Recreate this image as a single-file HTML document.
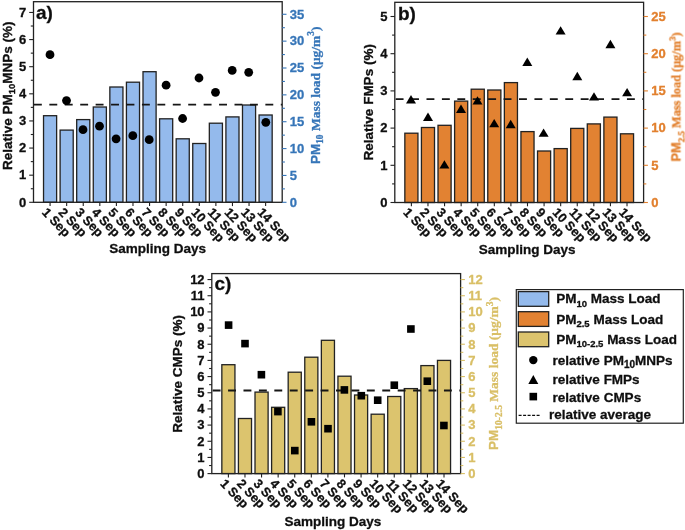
<!DOCTYPE html>
<html><head><meta charset="utf-8"><style>
html,body{margin:0;padding:0;background:#fff;}
body{width:685px;height:530px;overflow:hidden;}
svg{display:block;will-change:transform;font-family:"Liberation Sans",sans-serif;}
</style></head><body>
<svg width="685" height="530" viewBox="0 0 685 530">
<defs><filter id="bl" x="0" y="0" width="100%" height="100%" filterUnits="userSpaceOnUse"><feGaussianBlur stdDeviation="0.42 0.25"/></filter></defs>
<rect width="685" height="530" fill="#fff"/>
<g filter="url(#bl)">
<rect width="685" height="530" fill="#fff"/>
<rect x="43.53" y="115.7" width="13.1" height="86.6" fill="#94baec" stroke="#222" stroke-width="1.3"/>
<rect x="60.11" y="130.1" width="13.1" height="72.2" fill="#94baec" stroke="#222" stroke-width="1.3"/>
<rect x="76.69" y="119.6" width="13.1" height="82.7" fill="#94baec" stroke="#222" stroke-width="1.3"/>
<rect x="93.27" y="107" width="13.1" height="95.3" fill="#94baec" stroke="#222" stroke-width="1.3"/>
<rect x="109.85" y="87" width="13.1" height="115.3" fill="#94baec" stroke="#222" stroke-width="1.3"/>
<rect x="126.43" y="82.2" width="13.1" height="120.1" fill="#94baec" stroke="#222" stroke-width="1.3"/>
<rect x="143.01" y="71.7" width="13.1" height="130.6" fill="#94baec" stroke="#222" stroke-width="1.3"/>
<rect x="159.59" y="118.8" width="13.1" height="83.5" fill="#94baec" stroke="#222" stroke-width="1.3"/>
<rect x="176.17" y="138.8" width="13.1" height="63.5" fill="#94baec" stroke="#222" stroke-width="1.3"/>
<rect x="192.75" y="143.5" width="13.1" height="58.8" fill="#94baec" stroke="#222" stroke-width="1.3"/>
<rect x="209.33" y="123.2" width="13.1" height="79.1" fill="#94baec" stroke="#222" stroke-width="1.3"/>
<rect x="225.91" y="116.9" width="13.1" height="85.4" fill="#94baec" stroke="#222" stroke-width="1.3"/>
<rect x="242.49" y="105" width="13.1" height="97.3" fill="#94baec" stroke="#222" stroke-width="1.3"/>
<rect x="259.07" y="115" width="13.1" height="87.3" fill="#94baec" stroke="#222" stroke-width="1.3"/>
<line x1="33.5" y1="104.6" x2="282.2" y2="104.6" stroke="#151515" stroke-width="1.8" stroke-dasharray="7.9 7.53" stroke-dashoffset="-0.42"/>
<circle cx="50" cy="54.7" r="4.4" fill="#000"/>
<circle cx="66.5" cy="100.6" r="4.4" fill="#000"/>
<circle cx="83" cy="129.7" r="4.4" fill="#000"/>
<circle cx="99.5" cy="126.2" r="4.4" fill="#000"/>
<circle cx="116.1" cy="138.8" r="4.4" fill="#000"/>
<circle cx="132.8" cy="135.7" r="4.4" fill="#000"/>
<circle cx="149.2" cy="139.7" r="4.4" fill="#000"/>
<circle cx="166.1" cy="85.2" r="4.4" fill="#000"/>
<circle cx="182.6" cy="118.5" r="4.4" fill="#000"/>
<circle cx="199" cy="78" r="4.4" fill="#000"/>
<circle cx="215.5" cy="92.3" r="4.4" fill="#000"/>
<circle cx="232.2" cy="70.4" r="4.4" fill="#000"/>
<circle cx="248.7" cy="72.3" r="4.4" fill="#000"/>
<circle cx="265.8" cy="122.3" r="4.4" fill="#000"/>
<rect x="33.5" y="1.7" width="248.7" height="200.6" fill="none" stroke="#222" stroke-width="1.3"/>
<line x1="29.2" y1="202.3" x2="33.5" y2="202.3" stroke="#222" stroke-width="1.1"/>
<line x1="282.2" y1="202.3" x2="286.5" y2="202.3" stroke="#3675b8" stroke-width="1.1"/>
<text x="26.3" y="206.6" text-anchor="end" font-size="13" font-weight="bold" fill="#111" stroke="#111" stroke-width="0.3">0</text>
<text x="289.8" y="206.6" font-size="13" font-weight="bold" fill="#3675b8" stroke="#3675b8" stroke-width="0.3">0</text>
<line x1="30.8" y1="188.74" x2="33.5" y2="188.74" stroke="#222" stroke-width="1.1"/>
<line x1="282.2" y1="188.87" x2="284.9" y2="188.87" stroke="#3675b8" stroke-width="1.1"/>
<line x1="29.2" y1="175.18" x2="33.5" y2="175.18" stroke="#222" stroke-width="1.1"/>
<line x1="282.2" y1="175.44" x2="286.5" y2="175.44" stroke="#3675b8" stroke-width="1.1"/>
<text x="26.3" y="179.48" text-anchor="end" font-size="13" font-weight="bold" fill="#111" stroke="#111" stroke-width="0.3">1</text>
<text x="289.8" y="179.74" font-size="13" font-weight="bold" fill="#3675b8" stroke="#3675b8" stroke-width="0.3">5</text>
<line x1="30.8" y1="161.62" x2="33.5" y2="161.62" stroke="#222" stroke-width="1.1"/>
<line x1="282.2" y1="162.01" x2="284.9" y2="162.01" stroke="#3675b8" stroke-width="1.1"/>
<line x1="29.2" y1="148.06" x2="33.5" y2="148.06" stroke="#222" stroke-width="1.1"/>
<line x1="282.2" y1="148.58" x2="286.5" y2="148.58" stroke="#3675b8" stroke-width="1.1"/>
<text x="26.3" y="152.36" text-anchor="end" font-size="13" font-weight="bold" fill="#111" stroke="#111" stroke-width="0.3">2</text>
<text x="289.8" y="152.88" font-size="13" font-weight="bold" fill="#3675b8" stroke="#3675b8" stroke-width="0.3">10</text>
<line x1="30.8" y1="134.5" x2="33.5" y2="134.5" stroke="#222" stroke-width="1.1"/>
<line x1="282.2" y1="135.15" x2="284.9" y2="135.15" stroke="#3675b8" stroke-width="1.1"/>
<line x1="29.2" y1="120.94" x2="33.5" y2="120.94" stroke="#222" stroke-width="1.1"/>
<line x1="282.2" y1="121.72" x2="286.5" y2="121.72" stroke="#3675b8" stroke-width="1.1"/>
<text x="26.3" y="125.24" text-anchor="end" font-size="13" font-weight="bold" fill="#111" stroke="#111" stroke-width="0.3">3</text>
<text x="289.8" y="126.02" font-size="13" font-weight="bold" fill="#3675b8" stroke="#3675b8" stroke-width="0.3">15</text>
<line x1="30.8" y1="107.38" x2="33.5" y2="107.38" stroke="#222" stroke-width="1.1"/>
<line x1="282.2" y1="108.29" x2="284.9" y2="108.29" stroke="#3675b8" stroke-width="1.1"/>
<line x1="29.2" y1="93.82" x2="33.5" y2="93.82" stroke="#222" stroke-width="1.1"/>
<line x1="282.2" y1="94.86" x2="286.5" y2="94.86" stroke="#3675b8" stroke-width="1.1"/>
<text x="26.3" y="98.12" text-anchor="end" font-size="13" font-weight="bold" fill="#111" stroke="#111" stroke-width="0.3">4</text>
<text x="289.8" y="99.16" font-size="13" font-weight="bold" fill="#3675b8" stroke="#3675b8" stroke-width="0.3">20</text>
<line x1="30.8" y1="80.26" x2="33.5" y2="80.26" stroke="#222" stroke-width="1.1"/>
<line x1="282.2" y1="81.43" x2="284.9" y2="81.43" stroke="#3675b8" stroke-width="1.1"/>
<line x1="29.2" y1="66.7" x2="33.5" y2="66.7" stroke="#222" stroke-width="1.1"/>
<line x1="282.2" y1="68" x2="286.5" y2="68" stroke="#3675b8" stroke-width="1.1"/>
<text x="26.3" y="71" text-anchor="end" font-size="13" font-weight="bold" fill="#111" stroke="#111" stroke-width="0.3">5</text>
<text x="289.8" y="72.3" font-size="13" font-weight="bold" fill="#3675b8" stroke="#3675b8" stroke-width="0.3">25</text>
<line x1="30.8" y1="53.14" x2="33.5" y2="53.14" stroke="#222" stroke-width="1.1"/>
<line x1="282.2" y1="54.57" x2="284.9" y2="54.57" stroke="#3675b8" stroke-width="1.1"/>
<line x1="29.2" y1="39.58" x2="33.5" y2="39.58" stroke="#222" stroke-width="1.1"/>
<line x1="282.2" y1="41.14" x2="286.5" y2="41.14" stroke="#3675b8" stroke-width="1.1"/>
<text x="26.3" y="43.88" text-anchor="end" font-size="13" font-weight="bold" fill="#111" stroke="#111" stroke-width="0.3">6</text>
<text x="289.8" y="45.44" font-size="13" font-weight="bold" fill="#3675b8" stroke="#3675b8" stroke-width="0.3">30</text>
<line x1="30.8" y1="26.02" x2="33.5" y2="26.02" stroke="#222" stroke-width="1.1"/>
<line x1="282.2" y1="27.71" x2="284.9" y2="27.71" stroke="#3675b8" stroke-width="1.1"/>
<line x1="29.2" y1="12.46" x2="33.5" y2="12.46" stroke="#222" stroke-width="1.1"/>
<line x1="282.2" y1="14.28" x2="286.5" y2="14.28" stroke="#3675b8" stroke-width="1.1"/>
<text x="26.3" y="16.76" text-anchor="end" font-size="13" font-weight="bold" fill="#111" stroke="#111" stroke-width="0.3">7</text>
<text x="289.8" y="18.58" font-size="13" font-weight="bold" fill="#3675b8" stroke="#3675b8" stroke-width="0.3">35</text>
<line x1="50.08" y1="202.3" x2="50.08" y2="206.1" stroke="#222" stroke-width="1.1"/>
<text transform="translate(41.28,212.9) rotate(46.5)" font-size="12.8" font-weight="bold" fill="#111" stroke="#111" stroke-width="0.3">1 Sep</text>
<line x1="66.66" y1="202.3" x2="66.66" y2="206.1" stroke="#222" stroke-width="1.1"/>
<text transform="translate(57.86,212.9) rotate(46.5)" font-size="12.8" font-weight="bold" fill="#111" stroke="#111" stroke-width="0.3">2 Sep</text>
<line x1="83.24" y1="202.3" x2="83.24" y2="206.1" stroke="#222" stroke-width="1.1"/>
<text transform="translate(74.44,212.9) rotate(46.5)" font-size="12.8" font-weight="bold" fill="#111" stroke="#111" stroke-width="0.3">3 Sep</text>
<line x1="99.82" y1="202.3" x2="99.82" y2="206.1" stroke="#222" stroke-width="1.1"/>
<text transform="translate(91.02,212.9) rotate(46.5)" font-size="12.8" font-weight="bold" fill="#111" stroke="#111" stroke-width="0.3">4 Sep</text>
<line x1="116.4" y1="202.3" x2="116.4" y2="206.1" stroke="#222" stroke-width="1.1"/>
<text transform="translate(107.6,212.9) rotate(46.5)" font-size="12.8" font-weight="bold" fill="#111" stroke="#111" stroke-width="0.3">5 Sep</text>
<line x1="132.98" y1="202.3" x2="132.98" y2="206.1" stroke="#222" stroke-width="1.1"/>
<text transform="translate(124.18,212.9) rotate(46.5)" font-size="12.8" font-weight="bold" fill="#111" stroke="#111" stroke-width="0.3">6 Sep</text>
<line x1="149.56" y1="202.3" x2="149.56" y2="206.1" stroke="#222" stroke-width="1.1"/>
<text transform="translate(140.76,212.9) rotate(46.5)" font-size="12.8" font-weight="bold" fill="#111" stroke="#111" stroke-width="0.3">7 Sep</text>
<line x1="166.14" y1="202.3" x2="166.14" y2="206.1" stroke="#222" stroke-width="1.1"/>
<text transform="translate(157.34,212.9) rotate(46.5)" font-size="12.8" font-weight="bold" fill="#111" stroke="#111" stroke-width="0.3">8 Sep</text>
<line x1="182.72" y1="202.3" x2="182.72" y2="206.1" stroke="#222" stroke-width="1.1"/>
<text transform="translate(173.92,212.9) rotate(46.5)" font-size="12.8" font-weight="bold" fill="#111" stroke="#111" stroke-width="0.3">9 Sep</text>
<line x1="199.3" y1="202.3" x2="199.3" y2="206.1" stroke="#222" stroke-width="1.1"/>
<text transform="translate(190.5,212.9) rotate(46.5)" font-size="12.8" font-weight="bold" fill="#111" stroke="#111" stroke-width="0.3">10 Sep</text>
<line x1="215.88" y1="202.3" x2="215.88" y2="206.1" stroke="#222" stroke-width="1.1"/>
<text transform="translate(207.08,212.9) rotate(46.5)" font-size="12.8" font-weight="bold" fill="#111" stroke="#111" stroke-width="0.3">11 Sep</text>
<line x1="232.46" y1="202.3" x2="232.46" y2="206.1" stroke="#222" stroke-width="1.1"/>
<text transform="translate(223.66,212.9) rotate(46.5)" font-size="12.8" font-weight="bold" fill="#111" stroke="#111" stroke-width="0.3">12 Sep</text>
<line x1="249.04" y1="202.3" x2="249.04" y2="206.1" stroke="#222" stroke-width="1.1"/>
<text transform="translate(240.24,212.9) rotate(46.5)" font-size="12.8" font-weight="bold" fill="#111" stroke="#111" stroke-width="0.3">13 Sep</text>
<line x1="265.62" y1="202.3" x2="265.62" y2="206.1" stroke="#222" stroke-width="1.1"/>
<text transform="translate(256.82,212.9) rotate(46.5)" font-size="12.8" font-weight="bold" fill="#111" stroke="#111" stroke-width="0.3">14 Sep</text>
<text x="36" y="19" font-size="19" font-weight="bold" fill="#111" stroke="#111" stroke-width="0.3">a)</text>
<text transform="translate(12,170) rotate(-90)" font-size="13.5" font-weight="bold" fill="#111" stroke="#111" stroke-width="0.3">Relative PM<tspan font-size="9.5" dy="3">10</tspan><tspan dy="-3">MNPs (%)</tspan></text>
<text transform="translate(319.9,164.1) rotate(-90)" font-weight="bold" fill="#3675b8" stroke="#3675b8" stroke-width="0.3"><tspan font-family="Liberation Sans" font-size="13.5">PM</tspan><tspan font-family="Liberation Serif" font-size="9.4" dy="3.5">10</tspan><tspan font-family="Liberation Serif" font-size="13.5" dy="-3.5"> Mass load (μg/m</tspan><tspan font-family="Liberation Serif" font-size="9.4" dy="-5.5">3</tspan><tspan font-family="Liberation Serif" font-size="13.5" dy="5.5">)</tspan></text>
<text x="157.6" y="252.6" text-anchor="middle" font-size="13.5" font-weight="bold" fill="#111" stroke="#111" stroke-width="0.3">Sampling Days</text>
<rect x="404.84" y="133.2" width="13.1" height="69.3" fill="#e28230" stroke="#222" stroke-width="1.3"/>
<rect x="421.42" y="127.5" width="13.1" height="75" fill="#e28230" stroke="#222" stroke-width="1.3"/>
<rect x="438.01" y="125.3" width="13.1" height="77.2" fill="#e28230" stroke="#222" stroke-width="1.3"/>
<rect x="454.6" y="101.1" width="13.1" height="101.4" fill="#e28230" stroke="#222" stroke-width="1.3"/>
<rect x="471.18" y="89.2" width="13.1" height="113.3" fill="#e28230" stroke="#222" stroke-width="1.3"/>
<rect x="487.77" y="90" width="13.1" height="112.5" fill="#e28230" stroke="#222" stroke-width="1.3"/>
<rect x="504.36" y="82.6" width="13.1" height="119.9" fill="#e28230" stroke="#222" stroke-width="1.3"/>
<rect x="520.94" y="131.6" width="13.1" height="70.9" fill="#e28230" stroke="#222" stroke-width="1.3"/>
<rect x="537.53" y="151" width="13.1" height="51.5" fill="#e28230" stroke="#222" stroke-width="1.3"/>
<rect x="554.12" y="148.6" width="13.1" height="53.9" fill="#e28230" stroke="#222" stroke-width="1.3"/>
<rect x="570.7" y="128.4" width="13.1" height="74.1" fill="#e28230" stroke="#222" stroke-width="1.3"/>
<rect x="587.29" y="123.9" width="13.1" height="78.6" fill="#e28230" stroke="#222" stroke-width="1.3"/>
<rect x="603.88" y="117.1" width="13.1" height="85.4" fill="#e28230" stroke="#222" stroke-width="1.3"/>
<rect x="620.46" y="133.8" width="13.1" height="68.7" fill="#e28230" stroke="#222" stroke-width="1.3"/>
<line x1="394.8" y1="99.1" x2="643.6" y2="99.1" stroke="#151515" stroke-width="1.8" stroke-dasharray="7.9 7.52" stroke-dashoffset="-0.85"/>
<polygon points="411,95.08 416,103.48 406,103.48" fill="#000"/>
<polygon points="428,112.48 433,120.88 423,120.88" fill="#000"/>
<polygon points="444.4,160.18 449.4,168.58 439.4,168.58" fill="#000"/>
<polygon points="461,104.48 466,112.88 456,112.88" fill="#000"/>
<polygon points="477.5,96.18 482.5,104.58 472.5,104.58" fill="#000"/>
<polygon points="494.2,118.88 499.2,127.28 489.2,127.28" fill="#000"/>
<polygon points="510.7,119.78 515.7,128.18 505.7,128.18" fill="#000"/>
<polygon points="527.3,57.48 532.3,65.88 522.3,65.88" fill="#000"/>
<polygon points="543.6,128.38 548.6,136.78 538.6,136.78" fill="#000"/>
<polygon points="560.6,26.18 565.6,34.58 555.6,34.58" fill="#000"/>
<polygon points="577.3,71.78 582.3,80.18 572.3,80.18" fill="#000"/>
<polygon points="594,92.18 599,100.58 589,100.58" fill="#000"/>
<polygon points="610.4,39.78 615.4,48.18 605.4,48.18" fill="#000"/>
<polygon points="627.1,87.88 632.1,96.28 622.1,96.28" fill="#000"/>
<rect x="394.8" y="2.3" width="248.8" height="200.2" fill="none" stroke="#222" stroke-width="1.3"/>
<line x1="390.5" y1="202.5" x2="394.8" y2="202.5" stroke="#222" stroke-width="1.1"/>
<line x1="643.6" y1="202.5" x2="647.9" y2="202.5" stroke="#e2802e" stroke-width="1.1"/>
<text x="387.6" y="206.8" text-anchor="end" font-size="13" font-weight="bold" fill="#111" stroke="#111" stroke-width="0.3">0</text>
<text x="651.2" y="206.8" font-size="13" font-weight="bold" fill="#e2802e" stroke="#e2802e" stroke-width="0.3">0</text>
<line x1="392.1" y1="183.9" x2="394.8" y2="183.9" stroke="#222" stroke-width="1.1"/>
<line x1="643.6" y1="183.9" x2="646.3" y2="183.9" stroke="#e2802e" stroke-width="1.1"/>
<line x1="390.5" y1="165.3" x2="394.8" y2="165.3" stroke="#222" stroke-width="1.1"/>
<line x1="643.6" y1="165.3" x2="647.9" y2="165.3" stroke="#e2802e" stroke-width="1.1"/>
<text x="387.6" y="169.6" text-anchor="end" font-size="13" font-weight="bold" fill="#111" stroke="#111" stroke-width="0.3">1</text>
<text x="651.2" y="169.6" font-size="13" font-weight="bold" fill="#e2802e" stroke="#e2802e" stroke-width="0.3">5</text>
<line x1="392.1" y1="146.7" x2="394.8" y2="146.7" stroke="#222" stroke-width="1.1"/>
<line x1="643.6" y1="146.7" x2="646.3" y2="146.7" stroke="#e2802e" stroke-width="1.1"/>
<line x1="390.5" y1="128.1" x2="394.8" y2="128.1" stroke="#222" stroke-width="1.1"/>
<line x1="643.6" y1="128.1" x2="647.9" y2="128.1" stroke="#e2802e" stroke-width="1.1"/>
<text x="387.6" y="132.4" text-anchor="end" font-size="13" font-weight="bold" fill="#111" stroke="#111" stroke-width="0.3">2</text>
<text x="651.2" y="132.4" font-size="13" font-weight="bold" fill="#e2802e" stroke="#e2802e" stroke-width="0.3">10</text>
<line x1="392.1" y1="109.5" x2="394.8" y2="109.5" stroke="#222" stroke-width="1.1"/>
<line x1="643.6" y1="109.5" x2="646.3" y2="109.5" stroke="#e2802e" stroke-width="1.1"/>
<line x1="390.5" y1="90.9" x2="394.8" y2="90.9" stroke="#222" stroke-width="1.1"/>
<line x1="643.6" y1="90.9" x2="647.9" y2="90.9" stroke="#e2802e" stroke-width="1.1"/>
<text x="387.6" y="95.2" text-anchor="end" font-size="13" font-weight="bold" fill="#111" stroke="#111" stroke-width="0.3">3</text>
<text x="651.2" y="95.2" font-size="13" font-weight="bold" fill="#e2802e" stroke="#e2802e" stroke-width="0.3">15</text>
<line x1="392.1" y1="72.3" x2="394.8" y2="72.3" stroke="#222" stroke-width="1.1"/>
<line x1="643.6" y1="72.3" x2="646.3" y2="72.3" stroke="#e2802e" stroke-width="1.1"/>
<line x1="390.5" y1="53.7" x2="394.8" y2="53.7" stroke="#222" stroke-width="1.1"/>
<line x1="643.6" y1="53.7" x2="647.9" y2="53.7" stroke="#e2802e" stroke-width="1.1"/>
<text x="387.6" y="58" text-anchor="end" font-size="13" font-weight="bold" fill="#111" stroke="#111" stroke-width="0.3">4</text>
<text x="651.2" y="58" font-size="13" font-weight="bold" fill="#e2802e" stroke="#e2802e" stroke-width="0.3">20</text>
<line x1="392.1" y1="35.1" x2="394.8" y2="35.1" stroke="#222" stroke-width="1.1"/>
<line x1="643.6" y1="35.1" x2="646.3" y2="35.1" stroke="#e2802e" stroke-width="1.1"/>
<line x1="390.5" y1="16.5" x2="394.8" y2="16.5" stroke="#222" stroke-width="1.1"/>
<line x1="643.6" y1="16.5" x2="647.9" y2="16.5" stroke="#e2802e" stroke-width="1.1"/>
<text x="387.6" y="20.8" text-anchor="end" font-size="13" font-weight="bold" fill="#111" stroke="#111" stroke-width="0.3">5</text>
<text x="651.2" y="20.8" font-size="13" font-weight="bold" fill="#e2802e" stroke="#e2802e" stroke-width="0.3">25</text>
<line x1="411.39" y1="202.5" x2="411.39" y2="206.3" stroke="#222" stroke-width="1.1"/>
<text transform="translate(402.59,213.1) rotate(46.5)" font-size="12.8" font-weight="bold" fill="#111" stroke="#111" stroke-width="0.3">1 Sep</text>
<line x1="427.97" y1="202.5" x2="427.97" y2="206.3" stroke="#222" stroke-width="1.1"/>
<text transform="translate(419.17,213.1) rotate(46.5)" font-size="12.8" font-weight="bold" fill="#111" stroke="#111" stroke-width="0.3">2 Sep</text>
<line x1="444.56" y1="202.5" x2="444.56" y2="206.3" stroke="#222" stroke-width="1.1"/>
<text transform="translate(435.76,213.1) rotate(46.5)" font-size="12.8" font-weight="bold" fill="#111" stroke="#111" stroke-width="0.3">3 Sep</text>
<line x1="461.15" y1="202.5" x2="461.15" y2="206.3" stroke="#222" stroke-width="1.1"/>
<text transform="translate(452.35,213.1) rotate(46.5)" font-size="12.8" font-weight="bold" fill="#111" stroke="#111" stroke-width="0.3">4 Sep</text>
<line x1="477.73" y1="202.5" x2="477.73" y2="206.3" stroke="#222" stroke-width="1.1"/>
<text transform="translate(468.93,213.1) rotate(46.5)" font-size="12.8" font-weight="bold" fill="#111" stroke="#111" stroke-width="0.3">5 Sep</text>
<line x1="494.32" y1="202.5" x2="494.32" y2="206.3" stroke="#222" stroke-width="1.1"/>
<text transform="translate(485.52,213.1) rotate(46.5)" font-size="12.8" font-weight="bold" fill="#111" stroke="#111" stroke-width="0.3">6 Sep</text>
<line x1="510.91" y1="202.5" x2="510.91" y2="206.3" stroke="#222" stroke-width="1.1"/>
<text transform="translate(502.11,213.1) rotate(46.5)" font-size="12.8" font-weight="bold" fill="#111" stroke="#111" stroke-width="0.3">7 Sep</text>
<line x1="527.49" y1="202.5" x2="527.49" y2="206.3" stroke="#222" stroke-width="1.1"/>
<text transform="translate(518.69,213.1) rotate(46.5)" font-size="12.8" font-weight="bold" fill="#111" stroke="#111" stroke-width="0.3">8 Sep</text>
<line x1="544.08" y1="202.5" x2="544.08" y2="206.3" stroke="#222" stroke-width="1.1"/>
<text transform="translate(535.28,213.1) rotate(46.5)" font-size="12.8" font-weight="bold" fill="#111" stroke="#111" stroke-width="0.3">9 Sep</text>
<line x1="560.67" y1="202.5" x2="560.67" y2="206.3" stroke="#222" stroke-width="1.1"/>
<text transform="translate(551.87,213.1) rotate(46.5)" font-size="12.8" font-weight="bold" fill="#111" stroke="#111" stroke-width="0.3">10 Sep</text>
<line x1="577.25" y1="202.5" x2="577.25" y2="206.3" stroke="#222" stroke-width="1.1"/>
<text transform="translate(568.45,213.1) rotate(46.5)" font-size="12.8" font-weight="bold" fill="#111" stroke="#111" stroke-width="0.3">11 Sep</text>
<line x1="593.84" y1="202.5" x2="593.84" y2="206.3" stroke="#222" stroke-width="1.1"/>
<text transform="translate(585.04,213.1) rotate(46.5)" font-size="12.8" font-weight="bold" fill="#111" stroke="#111" stroke-width="0.3">12 Sep</text>
<line x1="610.43" y1="202.5" x2="610.43" y2="206.3" stroke="#222" stroke-width="1.1"/>
<text transform="translate(601.63,213.1) rotate(46.5)" font-size="12.8" font-weight="bold" fill="#111" stroke="#111" stroke-width="0.3">13 Sep</text>
<line x1="627.01" y1="202.5" x2="627.01" y2="206.3" stroke="#222" stroke-width="1.1"/>
<text transform="translate(618.21,213.1) rotate(46.5)" font-size="12.8" font-weight="bold" fill="#111" stroke="#111" stroke-width="0.3">14 Sep</text>
<text x="398" y="19.7" font-size="19" font-weight="bold" fill="#111" stroke="#111" stroke-width="0.3">b)</text>
<text transform="translate(373.0,160.4) rotate(-90)" font-size="13.5" font-weight="bold" fill="#111" stroke="#111" stroke-width="0.3">Relative FMPs (%)</text>
<text transform="translate(680.4,161.5) rotate(-90)" font-weight="bold" fill="#e2802e" stroke="#e2802e" stroke-width="0.3"><tspan font-family="Liberation Sans" font-size="12.8">PM</tspan><tspan font-family="Liberation Serif" font-size="9" dy="3.5">2.5</tspan><tspan font-family="Liberation Serif" font-size="12.3" dy="-3.5"> Mass load (μg/m</tspan><tspan font-family="Liberation Serif" font-size="9" dy="-5.5">3</tspan><tspan font-family="Liberation Serif" font-size="12.3" dy="5.5">)</tspan></text>
<text x="527.2" y="254.4" text-anchor="middle" font-size="13.5" font-weight="bold" fill="#111" stroke="#111" stroke-width="0.3">Sampling Days</text>
<rect x="221.84" y="364.7" width="13.1" height="108.9" fill="#dcc46e" stroke="#222" stroke-width="1.3"/>
<rect x="238.42" y="418.5" width="13.1" height="55.1" fill="#dcc46e" stroke="#222" stroke-width="1.3"/>
<rect x="255.01" y="392.1" width="13.1" height="81.5" fill="#dcc46e" stroke="#222" stroke-width="1.3"/>
<rect x="271.6" y="407.3" width="13.1" height="66.3" fill="#dcc46e" stroke="#222" stroke-width="1.3"/>
<rect x="288.18" y="372.2" width="13.1" height="101.4" fill="#dcc46e" stroke="#222" stroke-width="1.3"/>
<rect x="304.77" y="357.2" width="13.1" height="116.4" fill="#dcc46e" stroke="#222" stroke-width="1.3"/>
<rect x="321.36" y="340.3" width="13.1" height="133.3" fill="#dcc46e" stroke="#222" stroke-width="1.3"/>
<rect x="337.94" y="376.2" width="13.1" height="97.4" fill="#dcc46e" stroke="#222" stroke-width="1.3"/>
<rect x="354.53" y="395" width="13.1" height="78.6" fill="#dcc46e" stroke="#222" stroke-width="1.3"/>
<rect x="371.12" y="414.2" width="13.1" height="59.4" fill="#dcc46e" stroke="#222" stroke-width="1.3"/>
<rect x="387.7" y="396.5" width="13.1" height="77.1" fill="#dcc46e" stroke="#222" stroke-width="1.3"/>
<rect x="404.29" y="388.6" width="13.1" height="85" fill="#dcc46e" stroke="#222" stroke-width="1.3"/>
<rect x="420.88" y="365.6" width="13.1" height="108" fill="#dcc46e" stroke="#222" stroke-width="1.3"/>
<rect x="437.46" y="360.4" width="13.1" height="113.2" fill="#dcc46e" stroke="#222" stroke-width="1.3"/>
<line x1="211.8" y1="390.5" x2="460.6" y2="390.5" stroke="#151515" stroke-width="1.8" stroke-dasharray="7.9 7.52" stroke-dashoffset="-0.85"/>
<rect x="224.8" y="321.3" width="7.6" height="7.6" fill="#000"/>
<rect x="241.2" y="339.8" width="7.6" height="7.6" fill="#000"/>
<rect x="257.6" y="370.9" width="7.6" height="7.6" fill="#000"/>
<rect x="274.1" y="407.8" width="7.6" height="7.6" fill="#000"/>
<rect x="291" y="446.8" width="7.6" height="7.6" fill="#000"/>
<rect x="307.6" y="418" width="7.6" height="7.6" fill="#000"/>
<rect x="324.2" y="424.9" width="7.6" height="7.6" fill="#000"/>
<rect x="340.6" y="386.1" width="7.6" height="7.6" fill="#000"/>
<rect x="357.5" y="391.9" width="7.6" height="7.6" fill="#000"/>
<rect x="373.9" y="396.4" width="7.6" height="7.6" fill="#000"/>
<rect x="390.5" y="381.4" width="7.6" height="7.6" fill="#000"/>
<rect x="407.1" y="325.2" width="7.6" height="7.6" fill="#000"/>
<rect x="423.5" y="377.4" width="7.6" height="7.6" fill="#000"/>
<rect x="440.1" y="421.7" width="7.6" height="7.6" fill="#000"/>
<rect x="211.8" y="273.6" width="248.8" height="200" fill="none" stroke="#222" stroke-width="1.3"/>
<line x1="207.5" y1="473.6" x2="211.8" y2="473.6" stroke="#222" stroke-width="1.1"/>
<line x1="460.6" y1="473.6" x2="464.9" y2="473.6" stroke="#d9bf66" stroke-width="1.1"/>
<text x="204.6" y="477.9" text-anchor="end" font-size="13" font-weight="bold" fill="#111" stroke="#111" stroke-width="0.3">0</text>
<text x="468.2" y="477.9" font-size="13" font-weight="bold" fill="#d9bf66" stroke="#d9bf66" stroke-width="0.3">0</text>
<line x1="209.1" y1="465.52" x2="211.8" y2="465.52" stroke="#222" stroke-width="1.1"/>
<line x1="460.6" y1="465.52" x2="463.3" y2="465.52" stroke="#d9bf66" stroke-width="1.1"/>
<line x1="207.5" y1="457.43" x2="211.8" y2="457.43" stroke="#222" stroke-width="1.1"/>
<line x1="460.6" y1="457.43" x2="464.9" y2="457.43" stroke="#d9bf66" stroke-width="1.1"/>
<text x="204.6" y="461.73" text-anchor="end" font-size="13" font-weight="bold" fill="#111" stroke="#111" stroke-width="0.3">1</text>
<text x="468.2" y="461.73" font-size="13" font-weight="bold" fill="#d9bf66" stroke="#d9bf66" stroke-width="0.3">1</text>
<line x1="209.1" y1="449.35" x2="211.8" y2="449.35" stroke="#222" stroke-width="1.1"/>
<line x1="460.6" y1="449.35" x2="463.3" y2="449.35" stroke="#d9bf66" stroke-width="1.1"/>
<line x1="207.5" y1="441.26" x2="211.8" y2="441.26" stroke="#222" stroke-width="1.1"/>
<line x1="460.6" y1="441.26" x2="464.9" y2="441.26" stroke="#d9bf66" stroke-width="1.1"/>
<text x="204.6" y="445.56" text-anchor="end" font-size="13" font-weight="bold" fill="#111" stroke="#111" stroke-width="0.3">2</text>
<text x="468.2" y="445.56" font-size="13" font-weight="bold" fill="#d9bf66" stroke="#d9bf66" stroke-width="0.3">2</text>
<line x1="209.1" y1="433.18" x2="211.8" y2="433.18" stroke="#222" stroke-width="1.1"/>
<line x1="460.6" y1="433.18" x2="463.3" y2="433.18" stroke="#d9bf66" stroke-width="1.1"/>
<line x1="207.5" y1="425.09" x2="211.8" y2="425.09" stroke="#222" stroke-width="1.1"/>
<line x1="460.6" y1="425.09" x2="464.9" y2="425.09" stroke="#d9bf66" stroke-width="1.1"/>
<text x="204.6" y="429.39" text-anchor="end" font-size="13" font-weight="bold" fill="#111" stroke="#111" stroke-width="0.3">3</text>
<text x="468.2" y="429.39" font-size="13" font-weight="bold" fill="#d9bf66" stroke="#d9bf66" stroke-width="0.3">3</text>
<line x1="209.1" y1="417" x2="211.8" y2="417" stroke="#222" stroke-width="1.1"/>
<line x1="460.6" y1="417" x2="463.3" y2="417" stroke="#d9bf66" stroke-width="1.1"/>
<line x1="207.5" y1="408.92" x2="211.8" y2="408.92" stroke="#222" stroke-width="1.1"/>
<line x1="460.6" y1="408.92" x2="464.9" y2="408.92" stroke="#d9bf66" stroke-width="1.1"/>
<text x="204.6" y="413.22" text-anchor="end" font-size="13" font-weight="bold" fill="#111" stroke="#111" stroke-width="0.3">4</text>
<text x="468.2" y="413.22" font-size="13" font-weight="bold" fill="#d9bf66" stroke="#d9bf66" stroke-width="0.3">4</text>
<line x1="209.1" y1="400.84" x2="211.8" y2="400.84" stroke="#222" stroke-width="1.1"/>
<line x1="460.6" y1="400.84" x2="463.3" y2="400.84" stroke="#d9bf66" stroke-width="1.1"/>
<line x1="207.5" y1="392.75" x2="211.8" y2="392.75" stroke="#222" stroke-width="1.1"/>
<line x1="460.6" y1="392.75" x2="464.9" y2="392.75" stroke="#d9bf66" stroke-width="1.1"/>
<text x="204.6" y="397.05" text-anchor="end" font-size="13" font-weight="bold" fill="#111" stroke="#111" stroke-width="0.3">5</text>
<text x="468.2" y="397.05" font-size="13" font-weight="bold" fill="#d9bf66" stroke="#d9bf66" stroke-width="0.3">5</text>
<line x1="209.1" y1="384.67" x2="211.8" y2="384.67" stroke="#222" stroke-width="1.1"/>
<line x1="460.6" y1="384.67" x2="463.3" y2="384.67" stroke="#d9bf66" stroke-width="1.1"/>
<line x1="207.5" y1="376.58" x2="211.8" y2="376.58" stroke="#222" stroke-width="1.1"/>
<line x1="460.6" y1="376.58" x2="464.9" y2="376.58" stroke="#d9bf66" stroke-width="1.1"/>
<text x="204.6" y="380.88" text-anchor="end" font-size="13" font-weight="bold" fill="#111" stroke="#111" stroke-width="0.3">6</text>
<text x="468.2" y="380.88" font-size="13" font-weight="bold" fill="#d9bf66" stroke="#d9bf66" stroke-width="0.3">6</text>
<line x1="209.1" y1="368.5" x2="211.8" y2="368.5" stroke="#222" stroke-width="1.1"/>
<line x1="460.6" y1="368.5" x2="463.3" y2="368.5" stroke="#d9bf66" stroke-width="1.1"/>
<line x1="207.5" y1="360.41" x2="211.8" y2="360.41" stroke="#222" stroke-width="1.1"/>
<line x1="460.6" y1="360.41" x2="464.9" y2="360.41" stroke="#d9bf66" stroke-width="1.1"/>
<text x="204.6" y="364.71" text-anchor="end" font-size="13" font-weight="bold" fill="#111" stroke="#111" stroke-width="0.3">7</text>
<text x="468.2" y="364.71" font-size="13" font-weight="bold" fill="#d9bf66" stroke="#d9bf66" stroke-width="0.3">7</text>
<line x1="209.1" y1="352.33" x2="211.8" y2="352.33" stroke="#222" stroke-width="1.1"/>
<line x1="460.6" y1="352.33" x2="463.3" y2="352.33" stroke="#d9bf66" stroke-width="1.1"/>
<line x1="207.5" y1="344.24" x2="211.8" y2="344.24" stroke="#222" stroke-width="1.1"/>
<line x1="460.6" y1="344.24" x2="464.9" y2="344.24" stroke="#d9bf66" stroke-width="1.1"/>
<text x="204.6" y="348.54" text-anchor="end" font-size="13" font-weight="bold" fill="#111" stroke="#111" stroke-width="0.3">8</text>
<text x="468.2" y="348.54" font-size="13" font-weight="bold" fill="#d9bf66" stroke="#d9bf66" stroke-width="0.3">8</text>
<line x1="209.1" y1="336.15" x2="211.8" y2="336.15" stroke="#222" stroke-width="1.1"/>
<line x1="460.6" y1="336.15" x2="463.3" y2="336.15" stroke="#d9bf66" stroke-width="1.1"/>
<line x1="207.5" y1="328.07" x2="211.8" y2="328.07" stroke="#222" stroke-width="1.1"/>
<line x1="460.6" y1="328.07" x2="464.9" y2="328.07" stroke="#d9bf66" stroke-width="1.1"/>
<text x="204.6" y="332.37" text-anchor="end" font-size="13" font-weight="bold" fill="#111" stroke="#111" stroke-width="0.3">9</text>
<text x="468.2" y="332.37" font-size="13" font-weight="bold" fill="#d9bf66" stroke="#d9bf66" stroke-width="0.3">9</text>
<line x1="209.1" y1="319.99" x2="211.8" y2="319.99" stroke="#222" stroke-width="1.1"/>
<line x1="460.6" y1="319.99" x2="463.3" y2="319.99" stroke="#d9bf66" stroke-width="1.1"/>
<line x1="207.5" y1="311.9" x2="211.8" y2="311.9" stroke="#222" stroke-width="1.1"/>
<line x1="460.6" y1="311.9" x2="464.9" y2="311.9" stroke="#d9bf66" stroke-width="1.1"/>
<text x="204.6" y="316.2" text-anchor="end" font-size="13" font-weight="bold" fill="#111" stroke="#111" stroke-width="0.3">10</text>
<text x="468.2" y="316.2" font-size="13" font-weight="bold" fill="#d9bf66" stroke="#d9bf66" stroke-width="0.3">10</text>
<line x1="209.1" y1="303.81" x2="211.8" y2="303.81" stroke="#222" stroke-width="1.1"/>
<line x1="460.6" y1="303.81" x2="463.3" y2="303.81" stroke="#d9bf66" stroke-width="1.1"/>
<line x1="207.5" y1="295.73" x2="211.8" y2="295.73" stroke="#222" stroke-width="1.1"/>
<line x1="460.6" y1="295.73" x2="464.9" y2="295.73" stroke="#d9bf66" stroke-width="1.1"/>
<text x="204.6" y="300.03" text-anchor="end" font-size="13" font-weight="bold" fill="#111" stroke="#111" stroke-width="0.3">11</text>
<text x="468.2" y="300.03" font-size="13" font-weight="bold" fill="#d9bf66" stroke="#d9bf66" stroke-width="0.3">11</text>
<line x1="209.1" y1="287.64" x2="211.8" y2="287.64" stroke="#222" stroke-width="1.1"/>
<line x1="460.6" y1="287.64" x2="463.3" y2="287.64" stroke="#d9bf66" stroke-width="1.1"/>
<line x1="207.5" y1="279.56" x2="211.8" y2="279.56" stroke="#222" stroke-width="1.1"/>
<line x1="460.6" y1="279.56" x2="464.9" y2="279.56" stroke="#d9bf66" stroke-width="1.1"/>
<text x="204.6" y="283.86" text-anchor="end" font-size="13" font-weight="bold" fill="#111" stroke="#111" stroke-width="0.3">12</text>
<text x="468.2" y="283.86" font-size="13" font-weight="bold" fill="#d9bf66" stroke="#d9bf66" stroke-width="0.3">12</text>
<line x1="228.39" y1="473.6" x2="228.39" y2="477.4" stroke="#222" stroke-width="1.1"/>
<text transform="translate(219.59,484.2) rotate(46.5)" font-size="12.8" font-weight="bold" fill="#111" stroke="#111" stroke-width="0.3">1 Sep</text>
<line x1="244.97" y1="473.6" x2="244.97" y2="477.4" stroke="#222" stroke-width="1.1"/>
<text transform="translate(236.17,484.2) rotate(46.5)" font-size="12.8" font-weight="bold" fill="#111" stroke="#111" stroke-width="0.3">2 Sep</text>
<line x1="261.56" y1="473.6" x2="261.56" y2="477.4" stroke="#222" stroke-width="1.1"/>
<text transform="translate(252.76,484.2) rotate(46.5)" font-size="12.8" font-weight="bold" fill="#111" stroke="#111" stroke-width="0.3">3 Sep</text>
<line x1="278.15" y1="473.6" x2="278.15" y2="477.4" stroke="#222" stroke-width="1.1"/>
<text transform="translate(269.35,484.2) rotate(46.5)" font-size="12.8" font-weight="bold" fill="#111" stroke="#111" stroke-width="0.3">4 Sep</text>
<line x1="294.73" y1="473.6" x2="294.73" y2="477.4" stroke="#222" stroke-width="1.1"/>
<text transform="translate(285.93,484.2) rotate(46.5)" font-size="12.8" font-weight="bold" fill="#111" stroke="#111" stroke-width="0.3">5 Sep</text>
<line x1="311.32" y1="473.6" x2="311.32" y2="477.4" stroke="#222" stroke-width="1.1"/>
<text transform="translate(302.52,484.2) rotate(46.5)" font-size="12.8" font-weight="bold" fill="#111" stroke="#111" stroke-width="0.3">6 Sep</text>
<line x1="327.91" y1="473.6" x2="327.91" y2="477.4" stroke="#222" stroke-width="1.1"/>
<text transform="translate(319.11,484.2) rotate(46.5)" font-size="12.8" font-weight="bold" fill="#111" stroke="#111" stroke-width="0.3">7 Sep</text>
<line x1="344.49" y1="473.6" x2="344.49" y2="477.4" stroke="#222" stroke-width="1.1"/>
<text transform="translate(335.69,484.2) rotate(46.5)" font-size="12.8" font-weight="bold" fill="#111" stroke="#111" stroke-width="0.3">8 Sep</text>
<line x1="361.08" y1="473.6" x2="361.08" y2="477.4" stroke="#222" stroke-width="1.1"/>
<text transform="translate(352.28,484.2) rotate(46.5)" font-size="12.8" font-weight="bold" fill="#111" stroke="#111" stroke-width="0.3">9 Sep</text>
<line x1="377.67" y1="473.6" x2="377.67" y2="477.4" stroke="#222" stroke-width="1.1"/>
<text transform="translate(368.87,484.2) rotate(46.5)" font-size="12.8" font-weight="bold" fill="#111" stroke="#111" stroke-width="0.3">10 Sep</text>
<line x1="394.25" y1="473.6" x2="394.25" y2="477.4" stroke="#222" stroke-width="1.1"/>
<text transform="translate(385.45,484.2) rotate(46.5)" font-size="12.8" font-weight="bold" fill="#111" stroke="#111" stroke-width="0.3">11 Sep</text>
<line x1="410.84" y1="473.6" x2="410.84" y2="477.4" stroke="#222" stroke-width="1.1"/>
<text transform="translate(402.04,484.2) rotate(46.5)" font-size="12.8" font-weight="bold" fill="#111" stroke="#111" stroke-width="0.3">12 Sep</text>
<line x1="427.43" y1="473.6" x2="427.43" y2="477.4" stroke="#222" stroke-width="1.1"/>
<text transform="translate(418.63,484.2) rotate(46.5)" font-size="12.8" font-weight="bold" fill="#111" stroke="#111" stroke-width="0.3">13 Sep</text>
<line x1="444.01" y1="473.6" x2="444.01" y2="477.4" stroke="#222" stroke-width="1.1"/>
<text transform="translate(435.21,484.2) rotate(46.5)" font-size="12.8" font-weight="bold" fill="#111" stroke="#111" stroke-width="0.3">14 Sep</text>
<text x="214.4" y="290" font-size="19" font-weight="bold" fill="#111" stroke="#111" stroke-width="0.3">c)</text>
<text transform="translate(181.8,432.8) rotate(-90)" font-size="13.5" font-weight="bold" fill="#111" stroke="#111" stroke-width="0.3">Relative CMPs (%)</text>
<text transform="translate(498,449.9) rotate(-90)" font-weight="bold" fill="#d9bf66" stroke="#d9bf66" stroke-width="0.3"><tspan font-family="Liberation Sans" font-size="13.5">PM</tspan><tspan font-family="Liberation Serif" font-size="9.5" dy="3.5">10-2.5</tspan><tspan font-family="Liberation Serif" font-size="13.5" dy="-3.5"> Mass load (μg/m</tspan><tspan font-family="Liberation Serif" font-size="9.5" dy="-5.5">3</tspan><tspan font-family="Liberation Serif" font-size="13.5" dy="5.5">)</tspan></text>
<text x="332.8" y="525.6" text-anchor="middle" font-size="13.5" font-weight="bold" fill="#111" stroke="#111" stroke-width="0.3">Sampling Days</text>
<rect x="516.3" y="289.6" width="167" height="133.6" fill="#fff" stroke="#222" stroke-width="1.2"/>
<rect x="518.3" y="291.6" width="30.4" height="14.7" fill="#94baec" stroke="#222" stroke-width="1.3"/>
<rect x="518.3" y="311.7" width="30.4" height="14.7" fill="#e28230" stroke="#222" stroke-width="1.3"/>
<rect x="518.3" y="332.0" width="30.4" height="14.7" fill="#dcc46e" stroke="#222" stroke-width="1.3"/>
<text x="556.2" y="303.4" font-size="13.5" font-weight="bold" fill="#111" stroke="#111" stroke-width="0.3">PM<tspan font-size="9.5" dy="3.6">10</tspan><tspan dy="-3.6"> Mass Load</tspan></text>
<text x="556.2" y="323.6" font-size="13.5" font-weight="bold" fill="#111" stroke="#111" stroke-width="0.3">PM<tspan font-size="9.5" dy="3.6">2.5</tspan><tspan dy="-3.6"> Mass Load</tspan></text>
<text x="556.2" y="343.8" font-size="13.5" font-weight="bold" fill="#111" stroke="#111" stroke-width="0.3">PM<tspan font-size="9.5" dy="3.6">10-2.5</tspan><tspan dy="-3.6"> Mass Load</tspan></text>
<circle cx="533.3" cy="360.1" r="4.2" fill="#000"/>
<text x="552.6" y="364.5" font-size="13.5" font-weight="bold" fill="#111" stroke="#111" stroke-width="0.3">relative PM<tspan font-size="10" dy="3.8">10</tspan><tspan dy="-3.8">MNPs</tspan></text>
<polygon points="533.3,375 538.3,384 528.3,384" fill="#000"/>
<text x="552.6" y="384.3" font-size="13.5" font-weight="bold" fill="#111" stroke="#111" stroke-width="0.3">relative FMPs</text>
<rect x="529.5" y="392.8" width="7.6" height="7.6" fill="#000"/>
<text x="552.6" y="401.6" font-size="13.5" font-weight="bold" fill="#111" stroke="#111" stroke-width="0.3">relative CMPs</text>
<line x1="518.6" y1="415.3" x2="541" y2="415.3" stroke="#111" stroke-width="1.3" stroke-dasharray="3 1.5"/>
<text x="548.9" y="419" font-size="13.5" font-weight="bold" fill="#111" stroke="#111" stroke-width="0.3">relative average</text>
</g>
</svg>
</body></html>
